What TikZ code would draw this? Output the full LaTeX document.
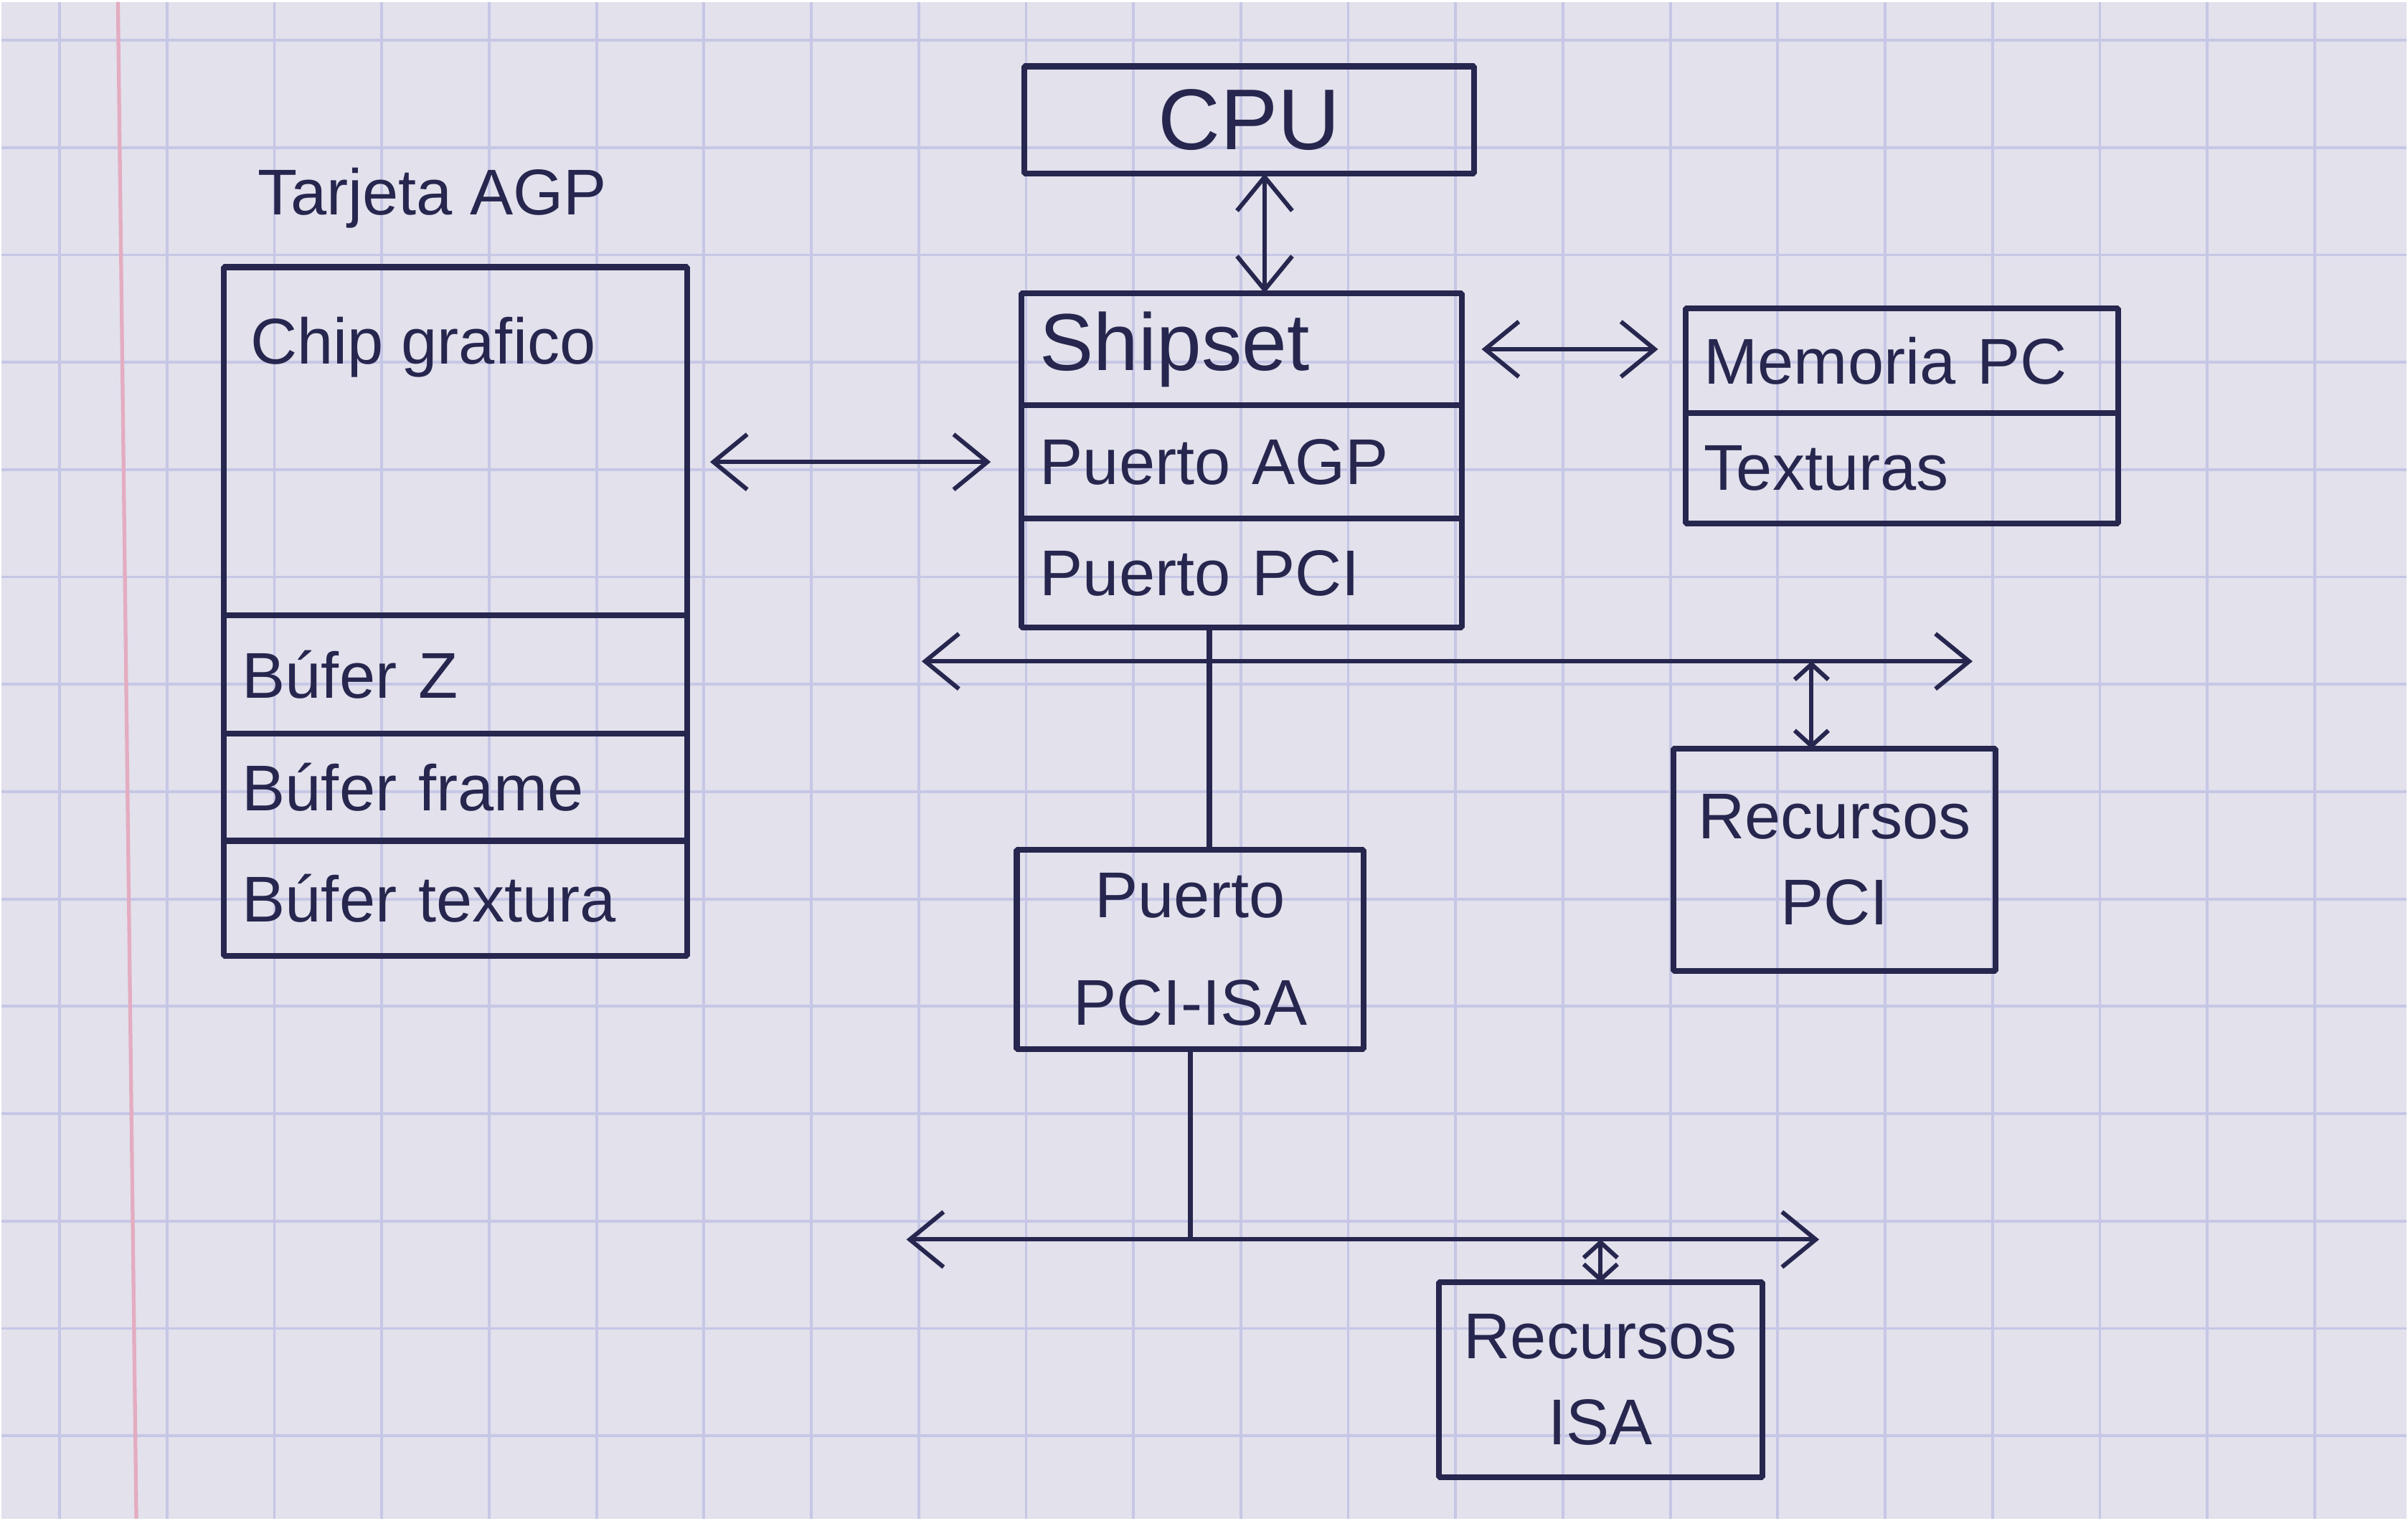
\documentclass[tikz,border=0pt]{standalone}
\usepackage{fontspec}
\setmainfont{Liberation Sans}
\usepackage{tikz}
\usetikzlibrary{arrows.meta, positioning, calc}

\definecolor{tinta}{RGB}{38,38,78}
\definecolor{papel}{RGB}{226,225,236}
\definecolor{cuadro}{RGB}{198,198,230}
\definecolor{margen}{RGB}{228,172,192}

\begin{document}
\begin{tikzpicture}[x=1cm, y=-1cm, line join=bevel,
    caja/.style={draw=tinta, line width=1.1pt, anchor=north west, outer sep=0pt, inner xsep=1.2mm, inner ysep=0pt,
                 align=left, text=tinta, font=\fontsize{12}{16}\selectfont},
    texto/.style={text=tinta, font=\fontsize{12}{16}\selectfont},
    flecha/.style={draw=tinta, line width=0.8pt, >={Straight Barb[length=2.2mm,width=3.6mm]}, <->},
    flechita/.style={draw=tinta, line width=0.8pt, >={Straight Barb[length=1mm,width=2.2mm]}, <->},
    bus/.style={draw=tinta, line width=1pt}]
        % hoja cuadriculada
        \fill[papel] (0,0) rectangle (15.68,9.89);
        \foreach \gx in {0.38,1.08,...,15.68}
          \draw[cuadro, line width=0.5pt] (\gx,0) -- (\gx,9.89);
        \foreach \gy in {0.25,0.95,...,9.89}
          \draw[cuadro, line width=0.5pt] (0,\gy) -- (15.68,\gy);
        \draw[margen, line width=0.7pt] (0.76,0) -- (0.88,9.89);

        % tarjeta AGP
        \node[texto, anchor=west] (tarjeta) at (1.55,1.28) {Tarjeta AGP};
        \node[caja, text width=2.78cm, minimum height=2.27cm,
              label={[anchor=north west, texto, xshift=0.5mm, yshift=-2mm]north west:Chip grafico}]
              (chip) at (1.45,1.73) {};
        \node[caja, text width=2.78cm, minimum height=0.77cm] (bz) at (chip.south west) {Búfer Z};
        \node[caja, text width=2.78cm, minimum height=0.70cm] (bf) at (bz.south west) {Búfer frame};
        \node[caja, text width=2.78cm, minimum height=0.75cm] (bt) at (bf.south west) {Búfer textura};

        % CPU y chipset
        \node[caja, minimum width=2.93cm, minimum height=0.70cm, align=center,
              font=\fontsize{16}{18}\selectfont] (cpu) at (6.67,0.42) {CPU};
        \node[caja, text width=2.63cm, minimum height=0.73cm,
              font=\fontsize{15}{17}\selectfont] (ship) at (6.65,1.90) {Shipset};
        \node[caja, text width=2.63cm, minimum height=0.74cm] (agp) at (ship.south west) {Puerto AGP};
        \node[caja, text width=2.63cm, minimum height=0.71cm] (pci) at (agp.south west) {Puerto PCI};

        % memoria
        \node[caja, text width=2.58cm, minimum height=0.68cm] (mem) at (10.98,2.00) {Memoria PC};
        \node[caja, text width=2.58cm, minimum height=0.72cm] (tex) at (mem.south west) {Texturas};

        % recursos y puente
        \node[caja, minimum width=2.10cm, minimum height=1.45cm, align=center] (rpci) at (10.90,4.87) {Recursos\\PCI};
        \node[caja, minimum width=2.26cm, minimum height=1.30cm, align=center,
              font=\fontsize{12}{20}\selectfont] (pciisa) at (6.62,5.53) {Puerto\\PCI-ISA};
        \node[caja, minimum width=2.11cm, minimum height=1.27cm, align=center] (risa) at (9.37,8.35) {Recursos\\ISA};

        % buses
        \coordinate (pciL) at (6.00,4.30);
        \coordinate (pciR) at (12.85,4.30);
        \coordinate (isaL) at (5.90,8.07);
        \coordinate (isaR) at (11.85,8.07);

        \draw[flecha] ([xshift=1mm]cpu.south) -- ([xshift=1mm]cpu.south |- ship.north);
        \draw[flecha] ([xshift=1.3mm]ship.east) -- ([xshift=-1.8mm]ship.east -| mem.west);
        \draw[flecha] ([xshift=-2mm]agp.west) -- ([xshift=1.5mm]agp.west -| chip.east);
        \draw[flecha] (pciL) -- (pciR);
        \draw[bus] ([xshift=-2.1mm]pci.south) -- ([xshift=-2.1mm]pci.south |- pciisa.north);
        \draw[flechita] ([xshift=-1.5mm]rpci.north) -- ([xshift=-1.5mm]rpci.north |- pciR);
        \draw[bus] (pciisa.south) -- (pciisa.south |- isaL);
        \draw[flecha] (isaL) -- (isaR);
        \draw[flechita] (risa.north) -- (risa.north |- isaR);
\end{tikzpicture}
\end{document}
